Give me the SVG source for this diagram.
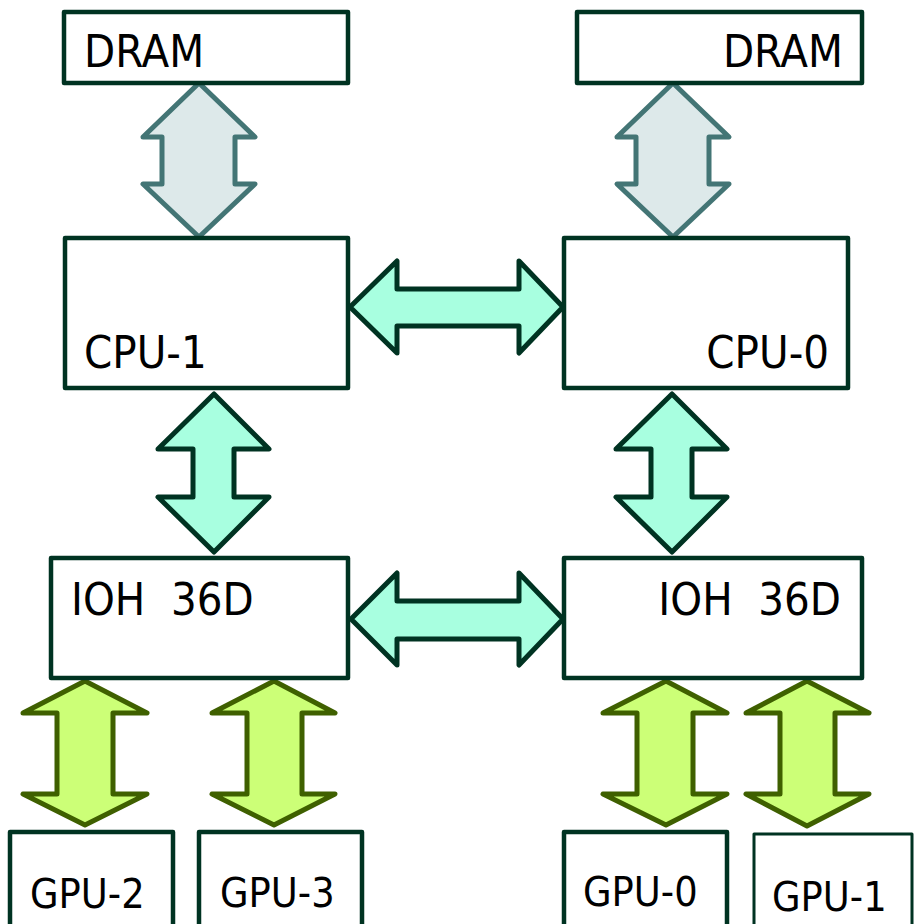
<svg xmlns="http://www.w3.org/2000/svg" width="915" height="924" viewBox="0 0 915 924">
<style>
.box{fill:#fff;stroke:#003322;stroke-width:4.5;stroke-linejoin:round}
.t{font-family:"DejaVu Sans Condensed","DejaVu Sans",sans-serif;font-size:45px;fill:#000}
.tg{font-family:"DejaVu Sans Condensed","DejaVu Sans",sans-serif;font-size:41px;fill:#000}
.mem{fill:#dde9ea;stroke:#437575;stroke-width:5;stroke-linejoin:round}
.qpi{fill:#a8ffe0;stroke:#003322;stroke-width:5;stroke-linejoin:round}
.pcie{fill:#ccff77;stroke:#3f6000;stroke-width:5;stroke-linejoin:round}
</style>
<g id="connectors">
<path class="mem" d="M199,83 L255,137 L235,137 L235,184 L255,184 L199,237 L143,184 L162,184 L162,137 L143,137 Z"/>
<path class="mem" d="M673,83 L729,137 L709,137 L709,184 L729,184 L673,237 L617,184 L636,184 L636,137 L617,137 Z"/>
<path class="qpi" d="M350,307 L397,261 L397,289 L519,289 L519,261 L563,307 L519,353 L519,326 L397,326 L397,353 Z"/>
<path class="qpi" d="M351,619 L397,573 L397,601 L519,601 L519,573 L563,619 L519,665 L519,639 L397,639 L397,665 Z"/>
<path class="qpi" d="M214,394 L269,449 L234,449 L234,497 L269,497 L214,552 L158,497 L193,497 L193,449 L158,449 Z"/>
<path class="qpi" d="M672,394 L727,449 L692,449 L692,497 L727,497 L672,552 L616,497 L651,497 L651,449 L616,449 Z"/>
<path class="pcie" d="M85,681 L147,713 L113,713 L113,794 L147,794 L85,825 L23,794 L57,794 L57,713 L23,713 Z"/>
<path class="pcie" d="M274,681 L335,713 L302,713 L302,794 L335,794 L274,825 L212,794 L247,794 L247,713 L212,713 Z"/>
<path class="pcie" d="M666,681 L727,713 L693,713 L693,794 L727,794 L666,825 L603,794 L637,794 L637,713 L603,713 Z"/>
<path class="pcie" d="M807,681 L869,713 L835,713 L835,794 L869,794 L807,826 L746,794 L780,794 L780,713 L746,713 Z"/>
</g>
<g id="dram1"><rect class="box" x="64" y="12" width="284" height="71"/><text class="t" x="84" y="67">DRAM</text></g>
<g id="dram0"><rect class="box" x="577" y="12" width="285" height="71"/><text class="t" x="843" y="67" text-anchor="end">DRAM</text></g>
<g id="cpu1"><rect class="box" x="65" y="238" width="283" height="150"/><text class="t" x="84" y="368">CPU-1</text></g>
<g id="cpu0"><rect class="box" x="564" y="238" width="284" height="150"/><text class="t" x="829" y="368" text-anchor="end">CPU-0</text></g>
<g id="ioh1"><rect class="box" x="51" y="558" width="297" height="120"/><text class="t" x="71" y="615" xml:space="preserve">IOH  36D</text></g>
<g id="ioh0"><rect class="box" x="564" y="558" width="298" height="120"/><text class="t" x="841" y="615" text-anchor="end" xml:space="preserve">IOH  36D</text></g>
<g id="gpu2"><rect class="box" x="10" y="832" width="163" height="110"/><text class="tg" x="30" y="908">GPU-2</text></g>
<g id="gpu3"><rect class="box" x="199" y="832" width="163" height="110"/><text class="tg" x="220" y="907">GPU-3</text></g>
<g id="gpu0"><rect class="box" x="564" y="832" width="163" height="110"/><text class="tg" x="583" y="906">GPU-0</text></g>
<g id="gpu1"><rect class="box" x="754" y="834" width="158" height="110" style="stroke-width:3"/><text class="tg" x="772" y="911">GPU-1</text></g>
</svg>
